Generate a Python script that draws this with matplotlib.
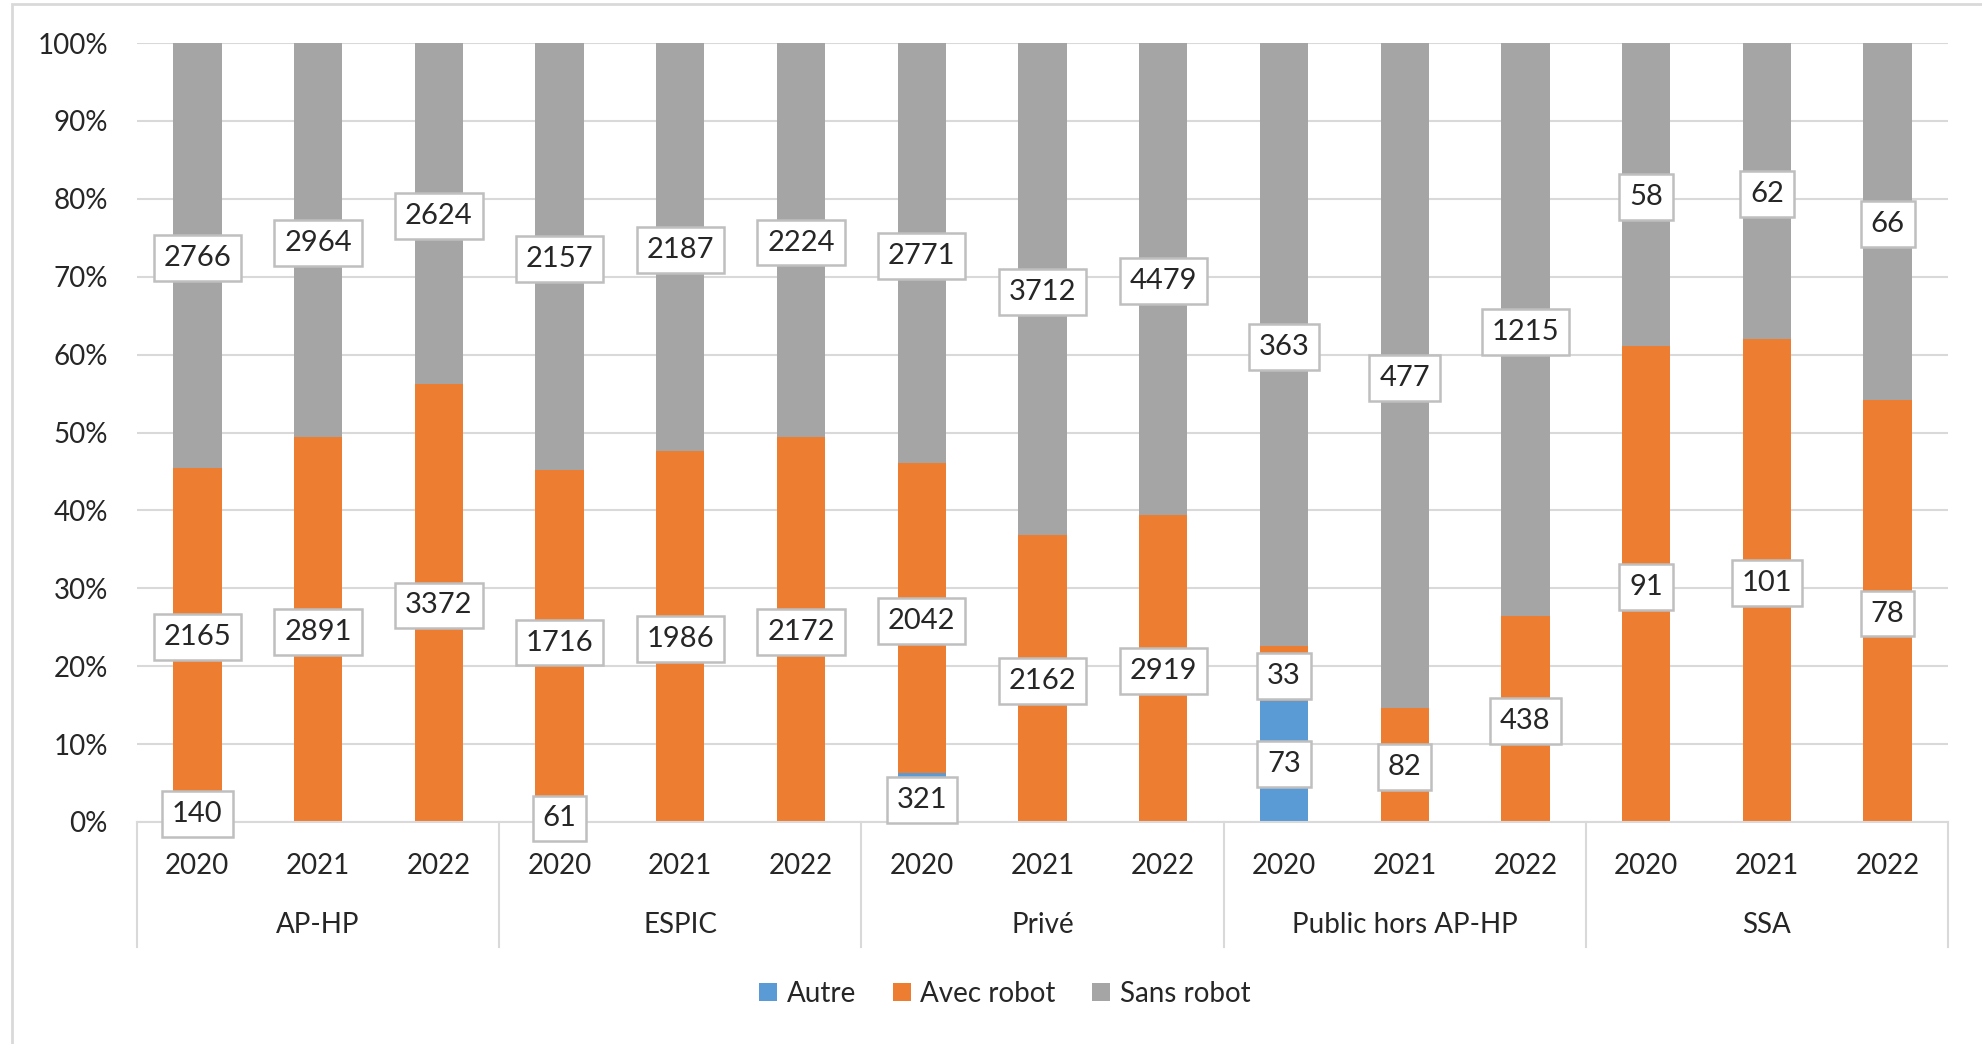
import numpy as np
import matplotlib.pyplot as plt
from matplotlib.patches import Rectangle
import matplotlib.transforms as mtransforms

plt.rcParams['font.family'] = ['Lato', 'DejaVu Sans']

groups = ["AP-HP", "ESPIC", "Privé", "Public hors AP-HP", "SSA"]
years = ["2020", "2021", "2022"]
autre = np.array([140, 0, 0, 61, 0, 0, 321, 0, 0, 73, 0, 0, 0, 0, 0])
avec = np.array([2165, 2891, 3372, 1716, 1986, 2172, 2042, 2162, 2919, 33, 82, 438, 91, 101, 78])
sans = np.array([2766, 2964, 2624, 2157, 2187, 2224, 2771, 3712, 4479, 363, 477, 1215, 58, 62, 66])

total = autre + avec + sans
series = [
    (autre, "Autre", "#5B9BD5"),
    (avec, "Avec robot", "#ED7D31"),
    (sans, "Sans robot", "#A5A5A5"),
]

txt = '#262626'
grid = '#D9D9D9'

fig = plt.figure(figsize=(19.82, 10.44), dpi=100)
ax = fig.add_axes([137/1982, 1 - 822/1044, (1948-137)/1982, (822-43)/1044])

x = np.arange(len(total))
w = 0.40
bottom = np.zeros(len(total))
for vals, name, col in series:
    pct = vals / total * 100
    ax.bar(x, pct, w, bottom=bottom, color=col, label=name, zorder=2)
    for xi, v, p, b in zip(x, vals, pct, bottom):
        if v > 0:
            ax.text(xi, b + p / 2, str(v), ha='center', va='center_baseline', fontsize=21,
                    color=txt,
                    bbox=dict(boxstyle='square,pad=0.34', fc='white', ec='#BFBFBF', lw=1.8),
                    zorder=4)
    bottom += pct

ax.set_xlim(-0.5, len(total) - 0.5)
ax.set_ylim(0, 100)
ax.set_yticks(np.arange(0, 101, 10))
ax.set_yticklabels([f"{v}%" for v in range(0, 101, 10)], fontsize=20, color=txt)
ax.yaxis.grid(True, color=grid, lw=1.5)
ax.set_axisbelow(True)
for s in ['top', 'right', 'left']:
    ax.spines[s].set_visible(False)
ax.spines['bottom'].set_color(grid)
ax.spines['bottom'].set_linewidth(1.5)

ax.set_xticks(x)
ax.set_xticklabels(years * len(groups), fontsize=20, color=txt)
ax.tick_params(axis='x', length=0, pad=22)
ax.tick_params(axis='y', length=0, pad=21)

trans = mtransforms.blended_transform_factory(ax.transData, ax.transAxes)
for i, g in enumerate(groups):
    ax.text(3 * i + 1, -0.132, g, transform=trans, ha='center', va='center',
            fontsize=20, color=txt)
for b in np.arange(-0.5, len(total), 3):
    ax.plot([b, b], [0, -0.1605], transform=trans, clip_on=False, color=grid, lw=1.5)

fig.legend(loc='center', bbox_to_anchor=(0.507, 0.048), ncol=3, frameon=False,
           fontsize=20, handlelength=0.65, handleheight=0.65, columnspacing=1.3,
           handletextpad=0.35, labelcolor=txt)

fig.add_artist(Rectangle((12/1982, -0.1), 2, 1 - 4/1044 + 0.1, transform=fig.transFigure,
                         fill=False, ec=grid, lw=2))

fig.savefig('out.png', dpi=100)
